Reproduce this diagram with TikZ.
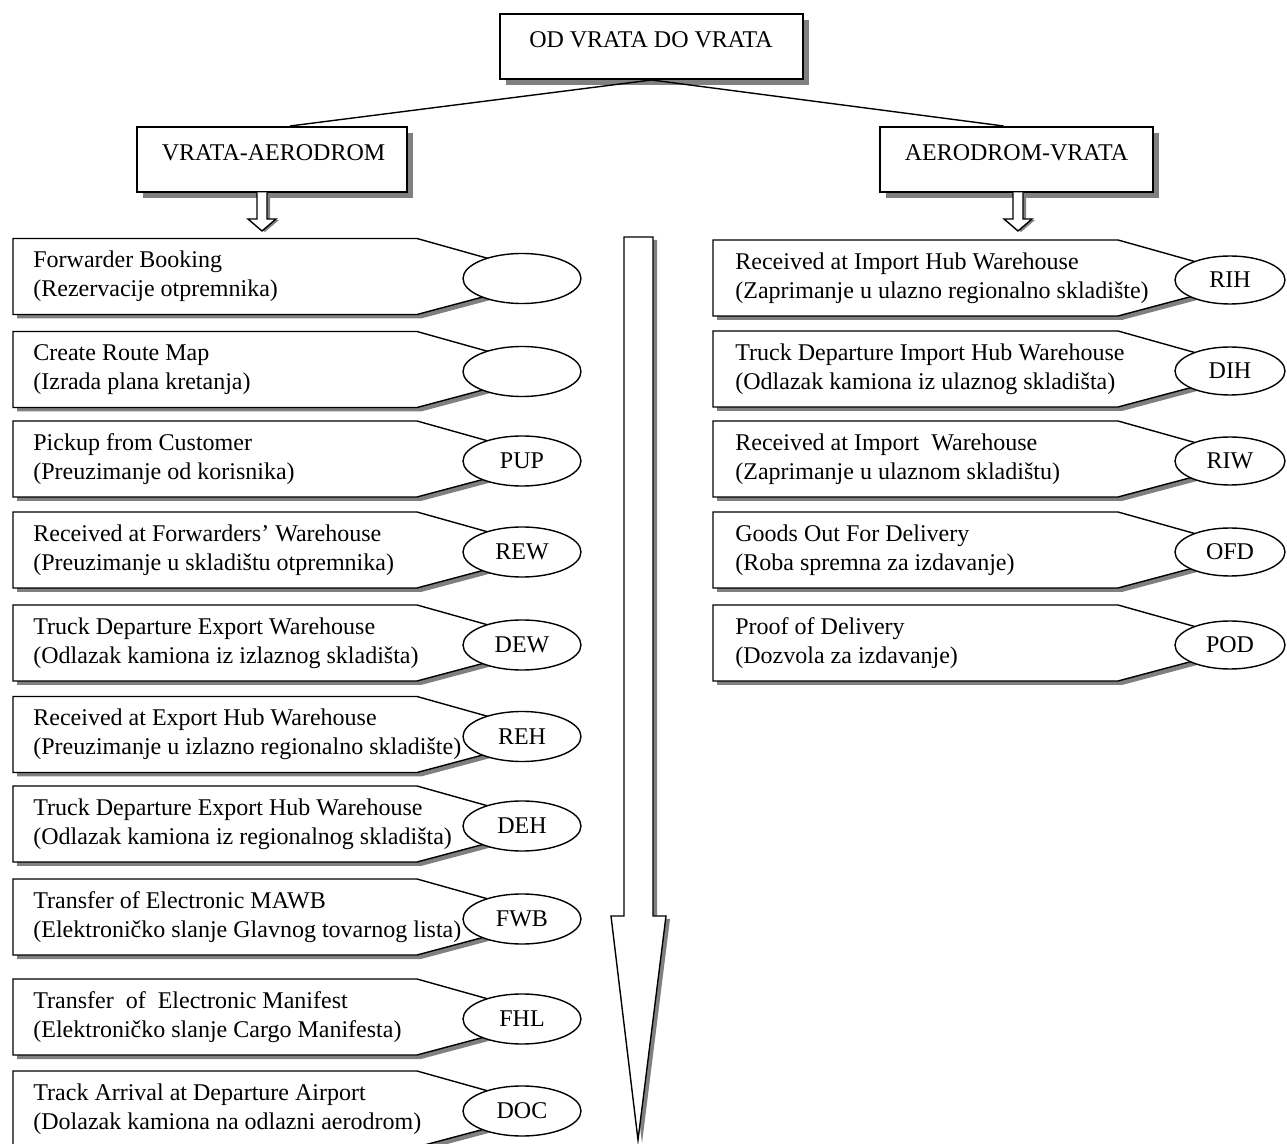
\documentclass[tikz,border=0pt]{standalone}
\usepackage{fontspec}
\setmainfont{Liberation Serif}
\usetikzlibrary{shapes.geometric,calc}
\begin{document}
\begin{tikzpicture}[x=0.5pt,y=-0.5pt,
  lw/.style={line width=0.7pt},
  shd/.style={fill=black!50},
  txt/.style={font=\fontsize{12}{14.5}\selectfont, inner sep=0pt},
  titlebox/.style={draw, line width=1pt, fill=white, inner sep=0pt, rectangle, minimum height=32.5pt},
  stepellipse/.style={ellipse, draw, lw, fill=white, inner sep=0pt, txt},
  steptext/.style={txt, anchor=west, align=left},
]
\useasboundingbox (0,0) rectangle (1287,1144);
\clip (0,0) rectangle (1287,1144);

% title boxes
\fill[shd] (506,20) rectangle (809,85);
\node[titlebox, minimum width=151.5pt] (odvd) at (651.5,46.5) {};
\node[txt] (odvdt) at (651,40) {OD VRATA DO VRATA};

\fill[shd] (143,133) rectangle (413,198);
\node[titlebox, minimum width=135pt] (va) at (272,159.5) {};
\node[txt] (vat) at (273.5,152.5) {VRATA-AERODROM};

\fill[shd] (886,133) rectangle (1159,198);
\node[titlebox, minimum width=136.5pt] (av) at (1016.5,159.5) {};
\node[txt] (avt) at (1016.5,152.5) {AERODROM-VRATA};

\draw[lw] (odvd.south) -- ([xshift=9pt]va.north);
\draw[lw] (odvd.south) -- ([xshift=-6.5pt]av.north);

% small hollow arrows
\fill[shd, shift={(3,1)}] (257,193) -- (257,219) -- (248,219) -- (262,231) -- (276,219) -- (267,219) -- (267,193) -- cycle;
\draw[lw, fill=white] (257,192.5) -- (257,219) -- (248,219) -- (262,231) -- (276,219) -- (267,219) -- (267,192.5);
\fill[shd, shift={(3,1)}] (1013,193) -- (1013,219) -- (1004,219) -- (1018,231) -- (1032,219) -- (1023,219) -- (1023,193) -- cycle;
\draw[lw, fill=white] (1013,192.5) -- (1013,219) -- (1004,219) -- (1018,231) -- (1032,219) -- (1023,219) -- (1023,192.5);

% big down arrow
\fill[shd, shift={(4,3)}] (624,237) -- (653,237) -- (653,916) -- (666,916) -- (638,1140) -- (611,916) -- (624,916) -- cycle;
\draw[lw, fill=white] (624,237) -- (653,237) -- (653,916) -- (666,916) -- (638,1140) -- (611,916) -- (624,916) -- cycle;

% left steps
\foreach \m/\a/\b/\c [count=\i] in {
  276.5/{Forwarder Booking}/{(Rezervacije otpremnika)}/{},
  369.5/{Create Route Map}/{(Izrada plana kretanja)}/{},
  459/{Pickup from Customer}/{(Preuzimanje od korisnika)}/{PUP},
  550/{Received at Forwarders' Warehouse}/{(Preuzimanje u skladištu otpremnika)}/{REW},
  643/{Truck Departure Export Warehouse}/{(Odlazak kamiona iz izlaznog skladišta)}/{DEW},
  734.5/{Received at Export Hub Warehouse}/{(Preuzimanje u izlazno regionalno skladište)}/{REH},
  824/{Truck Departure Export Hub Warehouse}/{(Odlazak kamiona iz regionalnog skladišta)}/{DEH},
  917/{Transfer of Electronic MAWB}/{(Elektroničko slanje Glavnog tovarnog lista)}/{FWB},
  1017/{Transfer\ \ of\ \ Electronic Manifest}/{(Elektroničko slanje Cargo Manifesta)}/{FHL},
  1109/{Track Arrival at Departure Airport}/{(Dolazak kamiona na odlazni aerodrom)}/{DOC}}
{
  \fill[shd, shift={(4,4)}] (13,{\m-38}) -- (417,{\m-38}) -- (556,{\m+1}) -- (417,{\m+38}) -- (13,{\m+38}) -- cycle;
  \draw[lw, fill=white] (13,{\m-38}) -- (417,{\m-38}) -- (556,{\m+1}) -- (417,{\m+38}) -- (13,{\m+38}) -- cycle;
  \node[stepellipse, minimum width=59pt, minimum height=25pt] (le\i) at (522,{\m+2}) {\c};
  \node[steptext] (lt\i) at (33,\m) {\a\\\b};
}

% right steps
\foreach \m/\a/\b/\c [count=\i] in {
  278/{Received at Import Hub Warehouse}/{(Zaprimanje u ulazno regionalno skladište)}/{RIH},
  369/{Truck Departure Import Hub Warehouse}/{(Odlazak kamiona iz ulaznog skladišta)}/{DIH},
  459/{Received at Import\ \ Warehouse}/{(Zaprimanje u ulaznom skladištu)}/{RIW},
  550/{Goods Out For Delivery}/{(Roba spremna za izdavanje)}/{OFD},
  643/{Proof of Delivery}/{(Dozvola za izdavanje)}/{POD}}
{
  \fill[shd, shift={(4,4)}] (713,{\m-38}) -- (1118,{\m-38}) -- (1257,{\m+1}) -- (1118,{\m+38}) -- (713,{\m+38}) -- cycle;
  \draw[lw, fill=white] (713,{\m-38}) -- (1118,{\m-38}) -- (1257,{\m+1}) -- (1118,{\m+38}) -- (713,{\m+38}) -- cycle;
  \node[stepellipse, minimum width=55pt, minimum height=24pt] (re\i) at (1230,{\m+2}) {\c};
  \node[steptext] (rt\i) at (735,\m) {\a\\\b};
}
\end{tikzpicture}
\end{document}
